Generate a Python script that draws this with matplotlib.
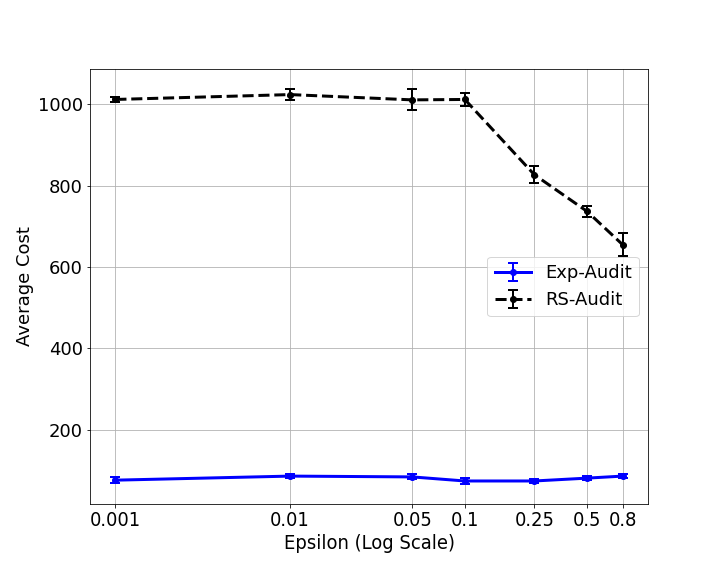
import matplotlib
matplotlib.use("Agg")
import matplotlib.pyplot as plt
import numpy as np

# region data
epsilons = [0.001, 0.01, 0.05, 0.1, 0.25, 0.5, 0.8]
tick_labels = ["0.001", "0.01", "0.05", "0.1", "0.25", "0.5", "0.8"]
exp_mean = [76, 86, 84, 74, 74, 81, 86]
exp_err = [7, 4, 6, 8, 6, 5, 5]
rs_mean = [1012, 1024, 1011, 1012, 827, 737, 655]
rs_err = [6, 14, 26, 17, 21, 14, 28]
# endregion

def main():
    plt.rcParams['font.size'] = 18
    fig, ax = plt.subplots(figsize=(10, 8), dpi=72)
    fig.subplots_adjust(left=0.125, right=0.9, top=0.88, bottom=0.125)

    ax.errorbar(epsilons, exp_mean, yerr=exp_err, color='blue', marker='o',
                markersize=6, linewidth=3, capsize=5, capthick=2, elinewidth=2,
                label='Exp-Audit')
    ax.errorbar(epsilons, rs_mean, yerr=rs_err, color='black', marker='o',
                markersize=6, linewidth=3, linestyle='--', capsize=5, capthick=2,
                elinewidth=2, label='RS-Audit')

    ax.set_xscale('log')
    ax.set_xticks(epsilons)
    ax.set_xticklabels(tick_labels, fontstretch='condensed', fontsize=20)
    ax.minorticks_off()
    ax.set_xlabel("Epsilon (Log Scale)", fontstretch='condensed', fontsize=20)
    ax.set_ylabel("Average Cost")
    ax.grid(True)
    ax.legend(loc='center right')
    fig.savefig("out.png", dpi=72)

if __name__ == "__main__":
    main()
